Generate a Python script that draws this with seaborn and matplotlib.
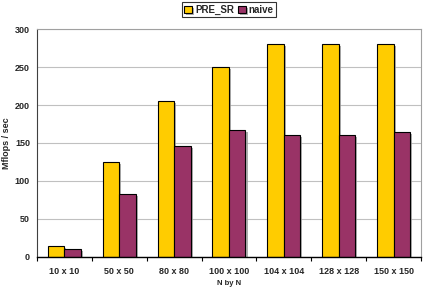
import seaborn as sns
import matplotlib.pyplot as plt
import matplotlib.patheffects as pe
import pandas as pd
import numpy as np

sizes = ['10 x 10', '50 x 50', '80 x 80', '100 x 100', '104 x 104', '128 x 128', '150 x 150']
pre_sr = [15, 125, 205, 250, 281, 280, 281]
naive = [11, 83, 146, 167, 161, 160, 165]

df = pd.DataFrame({'size': sizes * 2,
                   'mflops': pre_sr + naive,
                   'method': ['PRE_SR'] * len(sizes) + ['naive'] * len(sizes)})

sns.set_style('white')
plt.rcParams['font.family'] = ['Liberation Sans', 'DejaVu Sans']
plt.rcParams['font.weight'] = 'bold'

fig = plt.figure(figsize=(4.24, 2.88), dpi=100)
ax = fig.add_axes([0.087, 0.108, 0.906, 0.791])

sns.barplot(data=df, x='size', y='mflops', hue='method', order=sizes,
            palette={'PRE_SR': '#FFCC00', 'naive': '#993366'}, saturation=1,
            width=0.6, edgecolor='black', linewidth=0.8, ax=ax, legend=True)

for p in ax.patches:
    p.set_path_effects([pe.SimplePatchShadow(offset=(1.5, -1.5), shadow_rgbFace='#999999', alpha=0.8), pe.Normal()])

ax.set_ylim(0, 300)
ax.set_yticks(range(0, 301, 50))
ax.set_xlim(-0.5, len(sizes) - 0.5)
ax.yaxis.grid(True, color='#c0c0c0', linewidth=0.8)
ax.set_axisbelow(True)

ax.set_xticks(np.arange(len(sizes)))
ax.set_xticklabels(sizes, fontsize=6.5, fontweight='bold')
ax.set_xticks(np.arange(len(sizes) + 1) - 0.5, minor=True)
ax.tick_params(axis='x', which='major', length=0, pad=7)
ax.tick_params(axis='x', which='minor', length=3, width=0.8, color='black', direction='out', bottom=True)
ax.tick_params(axis='y', labelsize=6.5, length=0, pad=5)
for lbl in ax.get_yticklabels():
    lbl.set_fontweight('bold')

ax.set_xlabel('N by N', fontsize=5.5, fontweight='bold', labelpad=3)
ax.set_ylabel('Mflops / sec', fontsize=6.5, fontweight='bold', labelpad=3)

for side in ['top', 'right']:
    ax.spines[side].set_color('#a0a0a0')
    ax.spines[side].set_linewidth(0.8)
ax.spines['left'].set_color('#404040')
ax.spines['bottom'].set_color('black')
ax.spines['left'].set_linewidth(0.8)
ax.spines['bottom'].set_linewidth(1.0)

leg = ax.legend(loc='center', bbox_to_anchor=(0.5, 1.085), ncol=2, frameon=True,
                fontsize=7, handlelength=0.8, handleheight=0.8, handletextpad=0.3,
                columnspacing=0.4, borderpad=0.25, fancybox=False)
leg.get_frame().set_edgecolor('black')
leg.get_frame().set_linewidth(0.8)
for t in leg.get_texts():
    t.set_fontweight('bold')

fig.savefig('out.png', dpi=100)
